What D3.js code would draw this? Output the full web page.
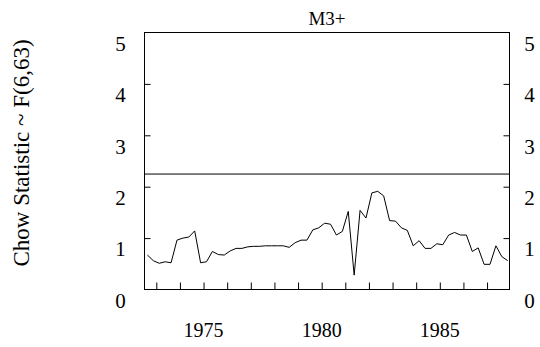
<!DOCTYPE html>
<html>
<head>
<meta charset="utf-8">
<script src="https://cdn.jsdelivr.net/npm/d3@7"></script>
<style>
  body { margin: 0; background: #fff; }
  svg text { font-family: "Liberation Serif", "Times New Roman", serif; fill: #000; }
</style>
</head>
<body>
<div id="chart"></div>
<script>
// quarterly Chow statistics, 1972Q3 .. 1987Q4
const startYear = 1972.625;
const chowValues = [
  0.67, 0.56, 0.51, 0.54, 0.52, 0.96, 1.00, 1.02, 1.14, 0.52,
  0.54, 0.74, 0.68, 0.67, 0.75, 0.80, 0.80, 0.83, 0.84, 0.84,
  0.85, 0.85, 0.85, 0.85, 0.82, 0.91, 0.96, 0.96, 1.16, 1.20,
  1.29, 1.27, 1.06, 1.13, 1.52, 0.28, 1.54, 1.39, 1.88, 1.91,
  1.82, 1.34, 1.33, 1.20, 1.15, 0.85, 0.95, 0.80, 0.80, 0.89,
  0.87, 1.06, 1.11, 1.06, 1.06, 0.74, 0.81, 0.49, 0.49, 0.85,
  0.64, 0.56
];
const criticalValue = 2.246;
const yTicks = [0, 1, 2, 3, 4, 5];
const xMinorTicks = d3.range(1973, 1988);
const xLabels = [1975, 1980, 1985];
const title = 'M3+';
const ylabel = 'Chow Statistic ~ F(6,63)';

const data = chowValues.map((v, i) => ({ x: startYear + i * 0.25, y: v }));

const width = 540, height = 347;
const margin = { top: 32.5, right: 30.5, bottom: 57.5, left: 144.5 };
const w = width - margin.left - margin.right;
const h = height - margin.top - margin.bottom;

const svg = d3.select('#chart')
  .append('svg')
  .attr('width', width)
  .attr('height', height);

const figure = svg.append('g')
  .attr('transform', 'translate(' + margin.left + ',' + margin.top + ')');

const xscale = d3.scaleLinear()
  .domain([1972.5, 1987.95])
  .range([0, w]);

const yscale = d3.scaleLinear()
  .domain([0, 5])
  .range([h, 0]);

// frame
figure.append('rect')
  .attr('width', w)
  .attr('height', h)
  .attr('fill', 'none')
  .attr('stroke', '#000')
  .attr('stroke-width', 1);

// inward ticks on left, right and bottom
figure.append('g')
  .call(d3.axisRight(yscale).tickValues(yTicks.slice(1, -1)).tickSize(6).tickFormat(''))
  .call(g => g.select('.domain').remove());

figure.append('g')
  .attr('transform', `translate(${w},0)`)
  .call(d3.axisLeft(yscale).tickValues(yTicks.slice(1, -1)).tickSize(6).tickFormat(''))
  .call(g => g.select('.domain').remove());

figure.append('g')
  .attr('transform', `translate(0,${h})`)
  .call(d3.axisTop(xscale).tickValues(xMinorTicks).tickSize(7).tickFormat(''))
  .call(g => g.select('.domain').remove());

// y tick labels, both sides (sit a little below the ticks)
figure.selectAll('.ylab-left')
  .data(yTicks)
  .enter().append('text')
  .attr('class', 'ylab-left')
  .attr('x', -24)
  .attr('y', d => yscale(d) + 11)
  .attr('dy', '0.35em')
  .style('text-anchor', 'middle')
  .style('font-size', '21px')
  .text(d => d);

figure.selectAll('.ylab-right')
  .data(yTicks)
  .enter().append('text')
  .attr('class', 'ylab-right')
  .attr('x', w + 20)
  .attr('y', d => yscale(d) + 11)
  .attr('dy', '0.35em')
  .style('text-anchor', 'middle')
  .style('font-size', '21px')
  .text(d => d);

// x labels
figure.selectAll('.xlab')
  .data(xLabels)
  .enter().append('text')
  .attr('class', 'xlab')
  .attr('x', d => xscale(d))
  .attr('y', h + 40)
  .attr('dy', '0.35em')
  .style('text-anchor', 'middle')
  .style('font-size', '20px')
  .text(d => d);

// critical value line
figure.append('line')
  .attr('x1', 0)
  .attr('x2', w)
  .attr('y1', yscale(criticalValue))
  .attr('y2', yscale(criticalValue))
  .attr('stroke', '#000')
  .attr('stroke-width', 1);

const line = d3.line()
  .x(d => xscale(d.x))
  .y(d => yscale(d.y));

figure.append('path')
  .datum(data)
  .attr('d', line)
  .attr('fill', 'none')
  .attr('stroke', '#000')
  .attr('stroke-width', 1);

// title
figure.append('text')
  .attr('x', w / 2)
  .attr('y', -8)
  .style('text-anchor', 'middle')
  .style('font-size', '19px')
  .text(title);

// ylabel
svg.append('text')
  .attr('transform', 'rotate(-90)')
  .attr('x', -153)
  .attr('y', 21)
  .attr('dy', '0.35em')
  .style('text-anchor', 'middle')
  .style('font-size', '23px')
  .text(ylabel);
</script>
</body>
</html>
